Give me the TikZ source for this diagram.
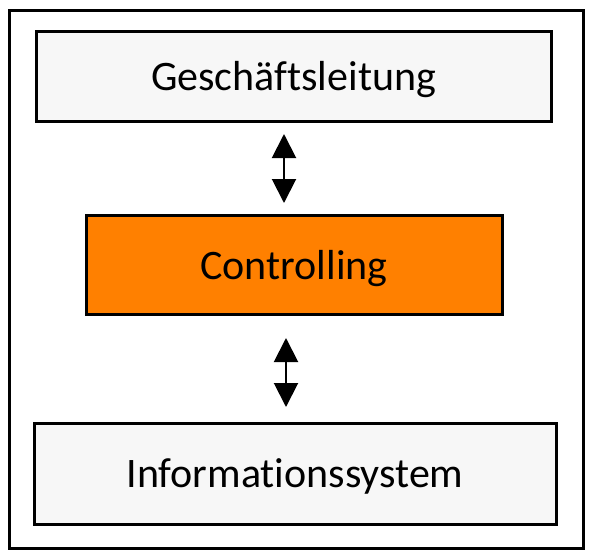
\documentclass[tikz,border=0pt]{standalone}
\usepackage{fontspec}
\setmainfont{Carlito}[Ligatures={NoCommon,NoRequired,NoContextual}]
\usetikzlibrary{arrows.meta}
\definecolor{boxgray}{HTML}{F7F7F7}
\definecolor{ctrlorange}{HTML}{FF8000}
\tikzset{
  panel/.style={draw=black, line width=3pt, fill=boxgray, inner sep=0pt,
    text height=36pt, text depth=8pt,
    font=\fontsize{42}{50}\selectfont, text=black},
  link/.style={line width=2pt, {Triangle[width=24pt,length=24pt]}-{Triangle[width=24pt,length=24pt]}}
}
\begin{document}
\begin{tikzpicture}[x=1pt,y=-1pt]
\useasboundingbox (0,0) rectangle (592,558);
\node[draw=black, line width=3pt, minimum width=574pt, minimum height=538pt, inner sep=0pt] (frame) at (296,279) {};
\node[panel, minimum width=515pt, minimum height=90pt] (top) at (293.5,76) {Geschäftsleitung};
\node[panel, fill=ctrlorange, minimum width=416pt, minimum height=99pt] (mid) at (294,265) {Controlling};
\node[panel, minimum width=522pt, minimum height=101pt] (bot) at (295,473.5) {Informationssystem};
\coordinate (a1) at (284,134);
\coordinate (a2) at (284,203);
\coordinate (b1) at (286,338);
\coordinate (b2) at (286,407);
\draw[link] (a2) -- (a1);
\draw[link] (b2) -- (b1);
\end{tikzpicture}
\end{document}
